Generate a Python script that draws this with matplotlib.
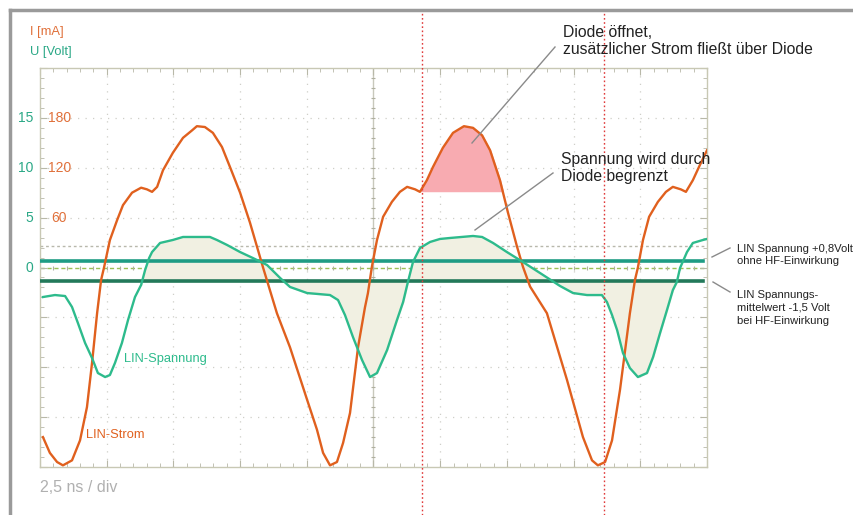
import numpy as np
import matplotlib
matplotlib.use("Agg")
from matplotlib import pyplot as plt
from matplotlib.lines import Line2D

plt.rcParams['font.family'] = ['Liberation Sans', 'DejaVu Sans']

# time in ns (2.5 ns / div, 10 div), current in mA
t_strom = [0.11, 0.37, 0.64, 0.86, 1.20, 1.50, 1.76, 1.95, 2.14, 2.29, 2.40, 2.62, 2.89, 3.11, 3.45,
           3.79, 4.01, 4.20, 4.39, 4.61, 4.98, 5.36, 5.70, 5.88, 6.18, 6.48, 6.82, 7.12, 7.50,
           7.87, 8.17, 8.36, 8.88, 9.37, 10.01, 10.38, 10.61, 10.87, 11.13, 11.36, 11.62, 11.92,
           12.18, 12.29, 12.44, 12.63, 12.86, 13.19, 13.49, 13.76, 14.06, 14.24, 14.50, 14.73,
           15.10, 15.48, 15.89, 16.23, 16.57, 16.87, 17.24, 17.54, 17.88, 18.10, 18.37, 19.00,
           19.75, 20.35, 20.69, 20.91, 21.18, 21.44, 21.74, 22.11, 22.30, 22.41, 22.60, 22.83,
           23.16, 23.46, 23.72, 24.02, 24.21, 24.47, 24.70, 25.0]
strom_mA = [-204, -223, -234, -238, -232, -208, -168, -115, -55, -15, 0, 33, 57, 75, 90,
            96, 94, 91, 97, 117, 138, 156, 165, 170, 169, 162, 145, 121, 90,
            54, 21, 0, -55, -96, -159, -195, -223, -238, -234, -211, -175, -96,
            -48, -31, 1, 33, 61, 79, 91, 97, 94, 91, 105, 121,
            144, 162, 170, 168, 159, 141, 105, 66, 25, 1, -23, -55,
            -135, -204, -232, -238, -234, -208, -147, -55, -15, 0, 33, 61,
            79, 91, 97, 94, 91, 105, 121, 141]

# voltage in V
t_spannung = [0.11, 0.56, 0.94, 1.20, 1.42, 1.69, 1.95, 2.17, 2.44, 2.62, 2.81, 3.07, 3.30, 3.56,
              3.79, 3.94, 4.09, 4.20, 4.50, 4.98, 5.36, 5.88, 6.37, 6.63, 7.01, 7.50, 7.98, 8.51,
              9.00, 9.37, 10.01, 10.87, 11.17, 11.43, 11.73, 12.07, 12.37, 12.63, 13.01, 13.38,
              13.61, 13.79, 13.98, 14.24, 14.62, 14.99, 15.37, 16.23, 16.57, 16.98, 17.50, 18.10,
              18.74, 19.49, 19.98, 20.50, 21.06, 21.25, 21.44, 21.63, 21.85, 22.11, 22.41, 22.75,
              22.98, 23.24, 23.50, 23.72, 23.87, 23.99, 24.25, 24.47, 24.85, 25.0]
spannung_V = [-2.96, -2.76, -2.86, -3.96, -5.56, -7.57, -9.07, -10.58, -10.98, -10.78, -9.57, -7.57, -5.26, -2.96,
              -1.75, -0.25, 0.95, 1.55, 2.46, 2.76, 3.06, 3.06, 3.06, 2.76, 2.26, 1.55, 0.95, 0.25,
              -1.05, -1.95, -2.56, -2.76, -3.26, -4.76, -6.97, -9.27, -10.98, -10.58, -8.27, -5.26,
              -3.46, -1.45, 0.55, 1.95, 2.56, 2.86, 2.96, 3.16, 3.06, 2.46, 1.55, 0.55,
              -0.55, -1.85, -2.56, -2.76, -2.76, -3.46, -4.76, -6.27, -8.57, -10.08, -10.98, -10.58,
              -8.97, -6.57, -4.26, -2.26, -1.45, -0.05, 1.55, 2.46, 2.76, 2.86]

U_ohne_HF = 0.7
U_mittel_HF = -1.4
U_cursor = 2.2
t_cursors = [14.32, 21.14]
diode_level_mA = 92

volt_ticks = [15, 10, 5, 0]
mA_ticks = [180, 120, 60]

orange = '#e0601e'
green = '#2dbb8c'
mA_per_V = 12.0

fig = plt.figure(figsize=(8.54, 5.15), dpi=100)
ax = fig.add_axes([40 / 854, 48 / 515, 667 / 854, 399 / 515])
ax.set_xlim(0, 25)
ax.set_ylim(-20, 20)

# grid
for xv in np.arange(2.5, 25, 2.5):
    if abs(xv - 12.5) > 0.01:
        ax.axvline(xv, color='#cfcfc8', lw=0.9, ls=(0, (1, 5)), zorder=0)
for yv in np.arange(-15, 20, 5):
    if yv != 0:
        ax.axhline(yv, color='#cfcfc8', lw=0.9, ls=(0, (1, 5)), zorder=0)
ax.axvline(12.5, color='#c8c8bc', lw=1.0, zorder=0)
ax.axhline(0, color='#9cc055', lw=1.0, ls=(0, (3, 2)), zorder=1)
ax.axhline(U_cursor, color='#b8b8ac', lw=1.0, ls=(0, (2, 2)), zorder=1)

# small ticks along centre lines
minor_t = np.arange(0.5, 25, 0.5)
minor_v = np.arange(-19, 20, 1)
ax.plot(minor_t, np.zeros_like(minor_t), ls='none', marker='|', ms=3, color='#b0b0a0', mew=0.8, zorder=1)
ax.plot(np.full_like(minor_v, 12.5, dtype=float), minor_v, ls='none', marker='_', ms=3, color='#b0b0a0', mew=0.8, zorder=1)

# spines and ticks
for s in ax.spines.values():
    s.set_color('#c8c8b4')
    s.set_linewidth(1.0)
ax.set_xticks(np.arange(0, 25.01, 2.5))
ax.set_xticks(minor_t, minor=True)
ax.set_yticks(np.arange(-20, 20.01, 5))
ax.set_yticks(minor_v, minor=True)
ax.tick_params(which='both', direction='in', top=True, right=True, color='#b8b8a8',
               labelbottom=False, labelleft=False)
ax.tick_params(which='major', length=5)
ax.tick_params(which='minor', length=3)

# fills
t_sp = np.array(t_spannung)
u_sp = np.array(spannung_V)
ax.fill_between(t_sp, u_sp, U_mittel_HF, where=(t_sp >= 3.7) & (t_sp <= 23.9),
                interpolate=True, color='#f1f0e2', zorder=1)
t_st = np.array(t_strom)
i_st = np.array(strom_mA) / mA_per_V
ax.fill_between(t_st, i_st, diode_level_mA / mA_per_V,
                where=(t_st >= 14.2) & (t_st <= 17.3) & (i_st >= diode_level_mA / mA_per_V),
                interpolate=True, color='#f8abb1', zorder=1)

# mean lines
ax.plot([0, 24.85], [U_ohne_HF, U_ohne_HF], color='#1f9c84', lw=2.6, zorder=3)
ax.plot([0, 24.85], [U_mittel_HF, U_mittel_HF], color='#23795a', lw=2.6, zorder=3)

# curves
ax.plot(t_st, i_st, color=orange, lw=1.7, zorder=4, solid_joinstyle='round')
ax.plot(t_sp, u_sp, color=green, lw=1.7, zorder=4, solid_joinstyle='round')

# cursors
for tc in t_cursors:
    ax.plot([tc, tc], [-0.12, 1.145], transform=ax.get_xaxis_transform(), color='#e03a3a',
            lw=1.0, ls=(0, (1.2, 1.8)), clip_on=False, zorder=5)

# axis labels
for v in volt_ticks:
    ax.text(-0.26, v, str(v), color='#2aa886', fontsize=10, ha='right', va='center', clip_on=False)
for m in mA_ticks:
    ax.text(0.73, m / mA_per_V, str(m), color='#e0703a', fontsize=10, ha='center', va='center')
fig.text(30 / 854, 1 - 32 / 515, 'I [mA]', color='#e0703a', fontsize=9.3, va='center')
fig.text(30 / 854, 1 - 52 / 515, 'U [Volt]', color='#2aa886', fontsize=9.3, va='center')
fig.text(40 / 854, 1 - 488 / 515, '2,5 ns / div', color='#b0b0b0', fontsize=11.5, va='center')

ax.text(3.15, -9.2, 'LIN-Spannung', color='#2dbb8c', fontsize=9.3, va='center')
ax.text(1.72, -16.8, 'LIN-Strom', color=orange, fontsize=9.3, va='center')

# annotations
gray = '#8a8a8a'
fig.text(563 / 854, 1 - 41 / 515, 'Diode öffnet,\nzusätzlicher Strom fließt über Diode',
         fontsize=11.3, va='center', linespacing=1.2, color='#222222')
fig.add_artist(Line2D([555 / 854, 472 / 854], [1 - 47 / 515, 1 - 143 / 515], color=gray, lw=1.0))
fig.text(561 / 854, 1 - 168 / 515, 'Spannung wird durch\nDiode begrenzt',
         fontsize=11.3, va='center', linespacing=1.2, color='#222222')
fig.add_artist(Line2D([553 / 854, 475 / 854], [1 - 173 / 515, 1 - 230 / 515], color=gray, lw=1.0))

fig.text(737 / 854, 1 - 255 / 515, 'LIN Spannung +0,8Volt\nohne HF-Einwirkung',
         fontsize=8.1, va='center', linespacing=1.25, color='#222222')
fig.add_artist(Line2D([712 / 854, 730 / 854], [1 - 257 / 515, 1 - 248 / 515], color=gray, lw=1.0))
fig.text(737 / 854, 1 - 308 / 515, 'LIN Spannungs-\nmittelwert -1,5 Volt\nbei HF-Einwirkung',
         fontsize=8.1, va='center', linespacing=1.35, color='#222222')
fig.add_artist(Line2D([713 / 854, 730 / 854], [1 - 282 / 515, 1 - 292 / 515], color=gray, lw=1.0))

# outer frame (left and top)
fig.add_artist(Line2D([10 / 854, 10 / 854], [0, 1 - 10 / 515], color='#9a9a9a', lw=2.5))
fig.add_artist(Line2D([10 / 854, 1], [1 - 10 / 515, 1 - 10 / 515], color='#9a9a9a', lw=2.5))

fig.savefig('out.png', dpi=100)
